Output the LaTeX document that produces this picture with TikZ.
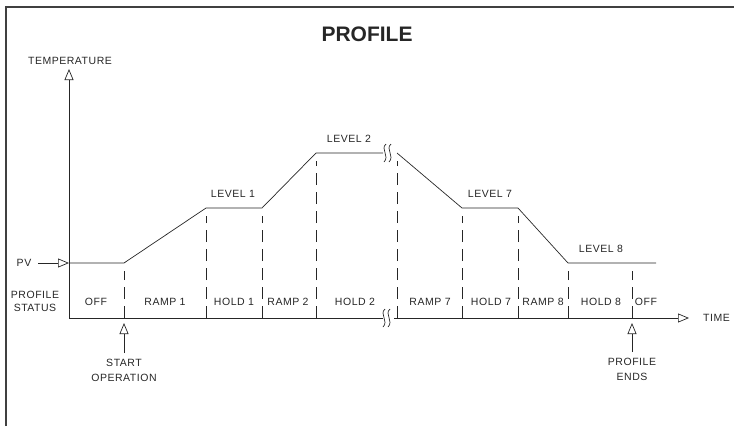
\documentclass[tikz,border=0pt]{standalone}
\usepackage{fontspec}
\setmainfont{Liberation Sans}
\newfontfamily\labfont[LetterSpace=5]{Liberation Sans}
\usetikzlibrary{arrows.meta}

\tikzset{
  lab/.style={font=\labfont\fontsize{10.5}{15}\selectfont, inner sep=1pt, text=black!85},
  trace/.style={line width=0.7pt, black!85},
  arr/.style={trace, -{Triangle[open, length=11pt, width=9pt]}},
  guide/.style={trace, dash pattern=on 12pt off 7pt},
}

\begin{document}
\begin{tikzpicture}[x=1pt, y=-1pt]
    \useasboundingbox (0,0) rectangle (734,426);
    % frame
    \draw[line width=1.6pt, black!75] (6,426) -- (6,7) -- (734,7);
    \node[font=\bfseries\fontsize{21}{24}\selectfont, text=black!85] (title) at (367,34) {PROFILE};

    % axes
    \coordinate (O) at (69,318);
    \coordinate (Ytop) at (69,69);
    \coordinate (Xgap1) at (383,318);
    \coordinate (Xgap2) at (394,318);
    \coordinate (Xend) at (689,318);
    \draw[arr] (O) -- (Ytop);
    \draw[trace] (O) -- (Xgap1);
    \draw[arr] (Xgap2) -- (Xend);
    \node[lab] (temp) at (70,61) {TEMPERATURE};
    \node[lab, anchor=west] (time) at (702,318) {TIME};

    % profile points
    \coordinate (P0) at (69,263);
    \coordinate (R1) at (124,263);
    \coordinate (L1a) at (206,208);
    \coordinate (L1b) at (262,208);
    \coordinate (L2a) at (316,153);
    \coordinate (B1) at (383,153);
    \coordinate (B2) at (397,153);
    \coordinate (L7a) at (462,208);
    \coordinate (L7b) at (518,208);
    \coordinate (L8a) at (568,263);
    \coordinate (L8b) at (656,263);
    \draw[trace] (P0) -- (R1) -- (L1a) -- (L1b) -- (L2a) -- (B1);
    \draw[trace] (B2) -- (L7a) -- (L7b) -- (L8a) -- (L8b);

    % break marks
    \foreach \bx/\by in {384/153, 383/318}
        \foreach \dx in {0,5}
            \draw[trace] (\bx+\dx+2,\by-9) .. controls (\bx+\dx-4,\by-4) and (\bx+\dx+6,\by+3) .. (\bx+\dx,\by+9);

    % step boundaries
    \foreach \gx/\gy in {124/263, 206/208, 262/208, 316/153, 397/153, 462/208, 518/208, 568/263, 632/263}
        \draw[guide] (\gx,318) -- (\gx,\gy+8);

    % PV
    \node[lab] (pv) at (24,263) {PV};
    \draw[arr] ([xshift=6pt]pv.east) -- (P0);

    % levels
    \node[lab] (lev1) at (233,194) {LEVEL 1};
    \node[lab] (lev2) at (349,139) {LEVEL 2};
    \node[lab] (lev7) at (490,194) {LEVEL 7};
    \node[lab] (lev8) at (601,249) {LEVEL 8};

    % status bands
    \node[lab, align=center, font=\labfont\fontsize{10.5}{13}\selectfont] (status) at (35,301) {PROFILE\\STATUS};
    \foreach \bx/\bt [count=\i] in {96/OFF, 165/RAMP 1, 234/HOLD 1, 288/RAMP 2, 355/HOLD 2,
            430/RAMP 7, 491/HOLD 7, 543/RAMP 8, 601/HOLD 8, 646/OFF}
        \node[lab] (band\i) at (\bx,302) {\bt};

    % start and end markers
    \coordinate (starttip) at (124,323);
    \coordinate (endtip) at (632,323);
    \node[lab, align=center, anchor=north] (startlab) at (124,358) {START\\OPERATION};
    \node[lab, align=center, anchor=north] (endlab) at (632,357) {PROFILE\\ENDS};
    \draw[arr] ([yshift=5pt]startlab.north) -- (starttip);
    \draw[arr] ([yshift=5pt]endlab.north) -- (endtip);
\end{tikzpicture}
\end{document}
